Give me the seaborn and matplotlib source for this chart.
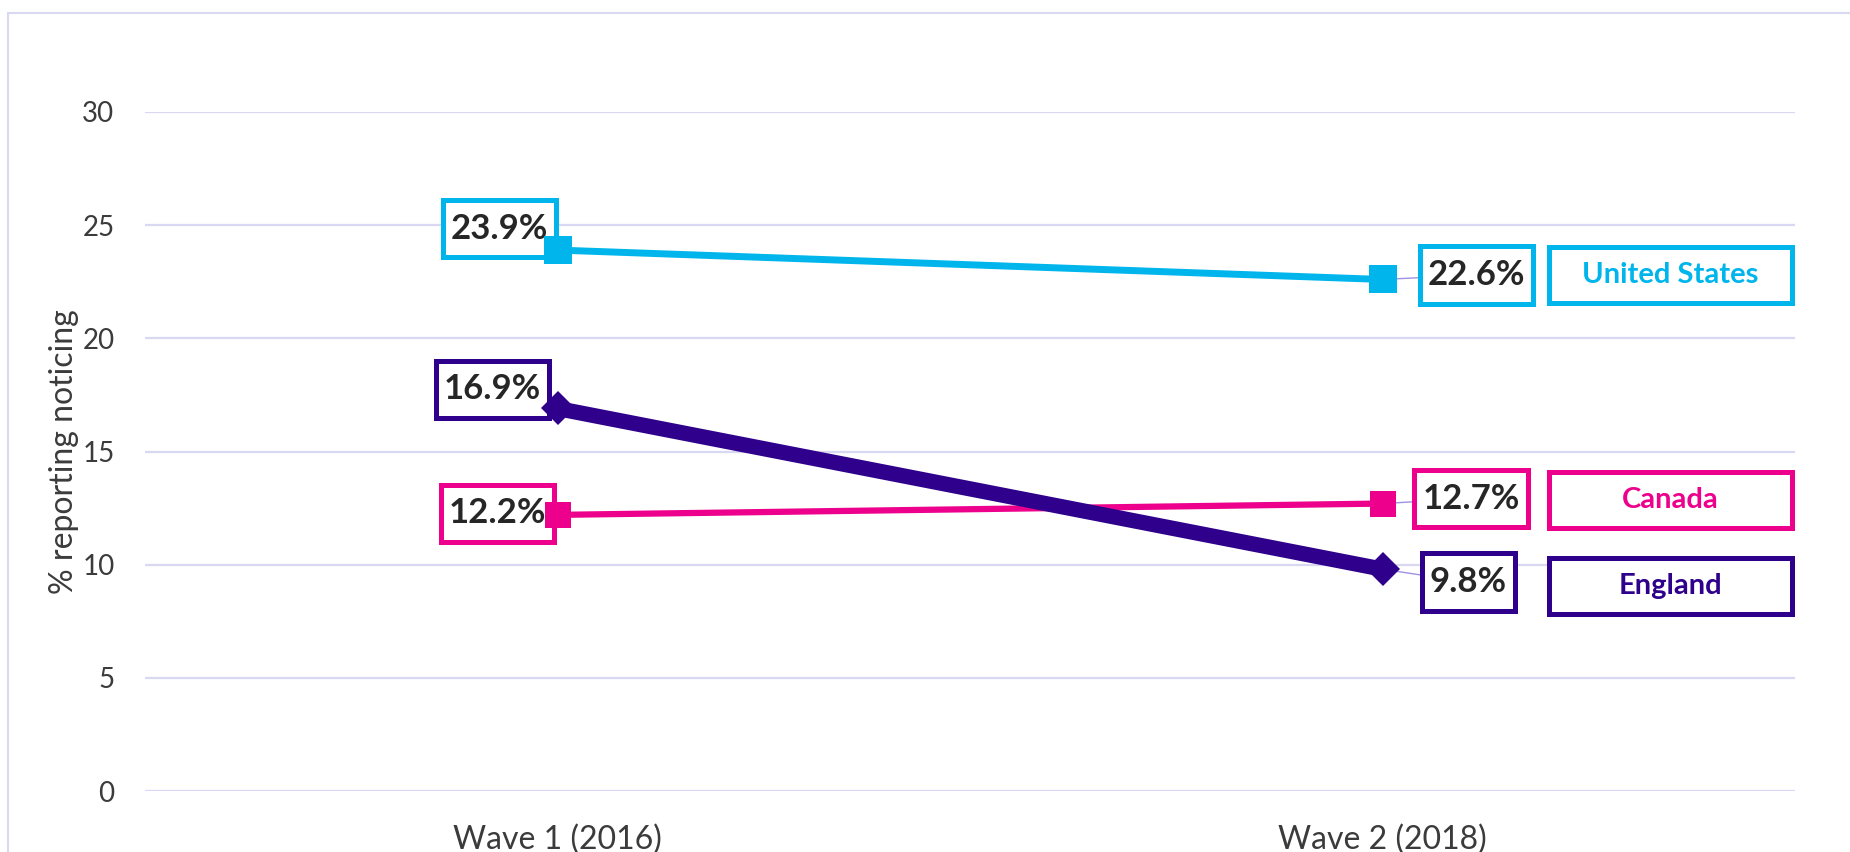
import pandas as pd
import numpy as np
import seaborn as sns
import matplotlib.pyplot as plt
from matplotlib.patches import Rectangle
from matplotlib.lines import Line2D
from matplotlib.path import Path
from matplotlib.transforms import blended_transform_factory

sns.set_style("white")
plt.rcParams['font.family'] = ['Lato', 'DejaVu Sans']

# share of respondents reporting noticing, by wave
df = pd.DataFrame({
    'wave': ['Wave 1 (2016)', 'Wave 2 (2018)'] * 3,
    'country': ['United States'] * 2 + ['Canada'] * 2 + ['England'] * 2,
    'pct': [23.9, 22.6, 12.2, 12.7, 16.9, 9.8],
})

colors = {'United States': '#00b5ec', 'Canada': '#ec008c', 'England': '#2e008b'}
styles = {'United States': dict(lw=5, marker='s', ms=20),
          'Canada': dict(lw=4.5, marker='s', ms=19),
          'England': dict(lw=11, marker='D', ms=17)}
# label box offsets (pixels) from each point: wave 1, wave 2
offsets = {'United States': [(-58, 21.5), (94, 4.6)],
           'Canada': [(-60, 1.5), (88.5, 5)],
           'England': [(-65, 19), (86, -13)]}
legend_y = {'United States': 22.8, 'Canada': 12.85, 'England': 9.05}


def label_box(x0, y0, width, height, mutation_size, padx=0.23, pady=0.37):
    # rectangle with more padding above/below than at the sides
    px, py = padx * mutation_size, pady * mutation_size
    x0, y0, x1, y1 = x0 - px, y0 - py, x0 + width + px, y0 + height + py
    return Path([(x0, y0), (x1, y0), (x1, y1), (x0, y1), (x0, y0)], closed=True)


fig = plt.figure(figsize=(18.5, 8.52), dpi=100)
ax = fig.add_axes([145 / 1850, 61 / 852, 1650 / 1850, 679 / 852])

for c in ['United States', 'Canada', 'England']:
    sub = df[df.country == c]
    st = styles[c]
    sns.lineplot(data=sub, x='wave', y='pct', ax=ax, color=colors[c],
                 lw=st['lw'], marker=st['marker'], markersize=st['ms'],
                 markeredgewidth=0, zorder=5, clip_on=False)

ax.set_xlim(-0.5, 1.5)
ax.set_ylim(0, 30)
ax.set_yticks(range(0, 31, 5))
ax.grid(axis='y', color='#d9d8f3', lw=1.6)
ax.grid(axis='x', visible=False)
sns.despine(ax=ax, left=True, bottom=True)
ax.tick_params(axis='both', length=0, labelcolor='#3b3b3b')
ax.tick_params(axis='y', pad=22, labelsize=20)
ax.tick_params(axis='x', pad=24, labelsize=23)
ax.set_xlabel('')
ax.set_ylabel('% reporting noticing', fontsize=23, color='#3b3b3b')
ax.yaxis.set_label_coords(-0.040, 0.5)

# value labels with coloured boxes
for c in colors:
    sub = df[df.country == c].reset_index(drop=True)
    for i, row in sub.iterrows():
        dx, dy = offsets[c][i]
        ax.annotate(f"{row.pct:.1f}%", xy=(i, row.pct), xytext=(dx, dy),
                    textcoords='offset pixels', ha='center', va='center',
                    fontsize=25, fontweight='bold', color='#262626', zorder=4,
                    bbox=dict(boxstyle=label_box, fc='white', ec=colors[c], lw=3.6),
                    arrowprops=dict(arrowstyle='-', color='#9d93e0', lw=1,
                                    shrinkA=0, shrinkB=0))

# series name boxes on the right
tr = blended_transform_factory(ax.transAxes, ax.transData)
for c, yc in legend_y.items():
    ax.add_patch(Rectangle((0.851, yc - 1.25), 0.147, 2.5, transform=tr,
                           fc='white', ec=colors[c], lw=3.6, clip_on=False, zorder=4))
    ax.text(0.9245, yc, c, transform=tr, ha='center', va='center', fontsize=21,
            fontweight='bold', color=colors[c], zorder=6)

# outer chart border (top and left visible)
fig.add_artist(Line2D([8 / 1850, 8 / 1850], [0, 1 - 13 / 852], color='#d9d8f3', lw=1.5))
fig.add_artist(Line2D([8 / 1850, 1], [1 - 13 / 852, 1 - 13 / 852], color='#d9d8f3', lw=1.5))

plt.savefig('out.png', dpi=100)
